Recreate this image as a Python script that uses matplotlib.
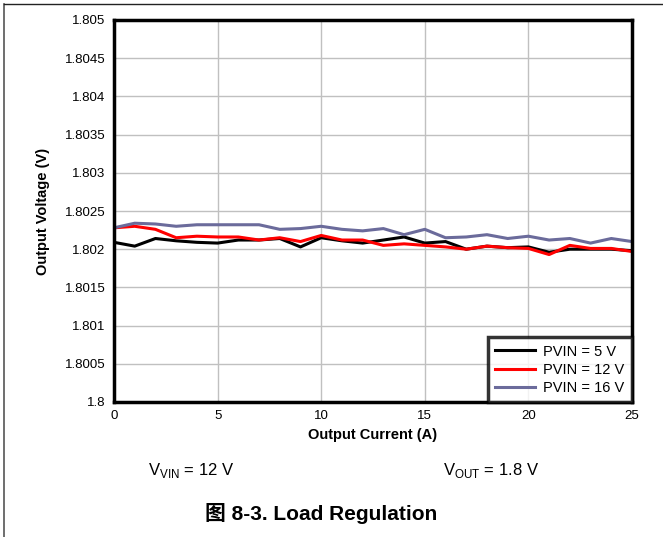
import matplotlib
matplotlib.use("Agg")
import matplotlib.pyplot as plt
from matplotlib.lines import Line2D

plt.rcParams['font.family'] = ['Liberation Sans', 'Noto Sans CJK SC', 'DejaVu Sans']

# output current (A)
current = list(range(26))
# output voltage (V)
v_5v = [1.80209, 1.80204, 1.80214, 1.80211, 1.80209, 1.80208, 1.80212, 1.80212,
        1.80214, 1.80203, 1.80215, 1.80211, 1.80208, 1.80212, 1.80216, 1.80208,
        1.80210, 1.80200, 1.80204, 1.80202, 1.80203, 1.80196, 1.80200, 1.80200,
        1.80200, 1.80198]
v_12v = [1.80228, 1.80230, 1.80226, 1.80215, 1.80217, 1.80216, 1.80216, 1.80212,
         1.80215, 1.80210, 1.80218, 1.80212, 1.80212, 1.80205, 1.80207, 1.80205,
         1.80203, 1.80200, 1.80204, 1.80202, 1.80201, 1.80193, 1.80205, 1.80201,
         1.80201, 1.80197]
v_16v = [1.80228, 1.80234, 1.80233, 1.80230, 1.80232, 1.80232, 1.80232, 1.80232,
         1.80226, 1.80227, 1.80230, 1.80226, 1.80224, 1.80227, 1.80219, 1.80226,
         1.80215, 1.80216, 1.80219, 1.80214, 1.80217, 1.80212, 1.80214, 1.80208,
         1.80214, 1.80210]

series = [("PVIN = 5 V", v_5v, "#000000"),
          ("PVIN = 12 V", v_12v, "#ff0000"),
          ("PVIN = 16 V", v_16v, "#6b6b9b")]

yticks = [1.8, 1.8005, 1.801, 1.8015, 1.802, 1.8025, 1.803, 1.8035, 1.804, 1.8045, 1.805]
ytick_labels = ["1.8", "1.8005", "1.801", "1.8015", "1.802", "1.8025", "1.803",
                "1.8035", "1.804", "1.8045", "1.805"]
xticks = [0, 5, 10, 15, 20, 25]

fig = plt.figure(figsize=(6.63, 5.37), dpi=100)
ax = fig.add_axes([114 / 663, 1 - 402 / 537, 518 / 663, 382 / 537])

for label, vals, color in series:
    ax.plot(current, vals, color=color, lw=2.2, label=label)

ax.set_xlim(0, 25)
ax.set_ylim(1.8, 1.805)
ax.set_xticks(xticks)
ax.set_yticks(yticks)
ax.set_yticklabels(ytick_labels)
ax.tick_params(length=0, labelsize=9.5, pad=6)
ax.grid(True, color="#c0c0c0", lw=1)
ax.set_axisbelow(True)
for sp in ax.spines.values():
    sp.set_linewidth(2.5)
    sp.set_color("black")

ax.set_xlabel("Output Current (A)", fontsize=10.5, fontweight="bold", labelpad=4)
ax.set_ylabel("Output Voltage (V)", fontsize=10.5, fontweight="bold", labelpad=11)

leg = ax.legend(loc="lower right", fontsize=10.5, frameon=True, fancybox=False,
                borderaxespad=0, handlelength=2.7, labelspacing=0.28,
                borderpad=0.5, handletextpad=0.6)
leg.get_frame().set_edgecolor("black")
leg.get_frame().set_linewidth(2.5)

# page border lines
fig.add_artist(Line2D([4 / 663, 4 / 663], [0, 1 - 4 / 537], color="#555555", lw=1.2))
fig.add_artist(Line2D([4 / 663, 1], [1 - 4 / 537, 1 - 4 / 537], color="#222222", lw=1))

fig.text(148 / 663, 1 - 470 / 537, r"V$_{\mathregular{VIN}}$ = 12 V", fontsize=12,
         ha="left", va="center")
fig.text(443 / 663, 1 - 470 / 537, r"V$_{\mathregular{OUT}}$ = 1.8 V", fontsize=12,
         ha="left", va="center")
fig.text(321 / 663, 1 - 513 / 537, "图 8-3. Load Regulation", fontsize=15,
         fontweight="bold", ha="center", va="center")

fig.savefig("out.png", dpi=100)
